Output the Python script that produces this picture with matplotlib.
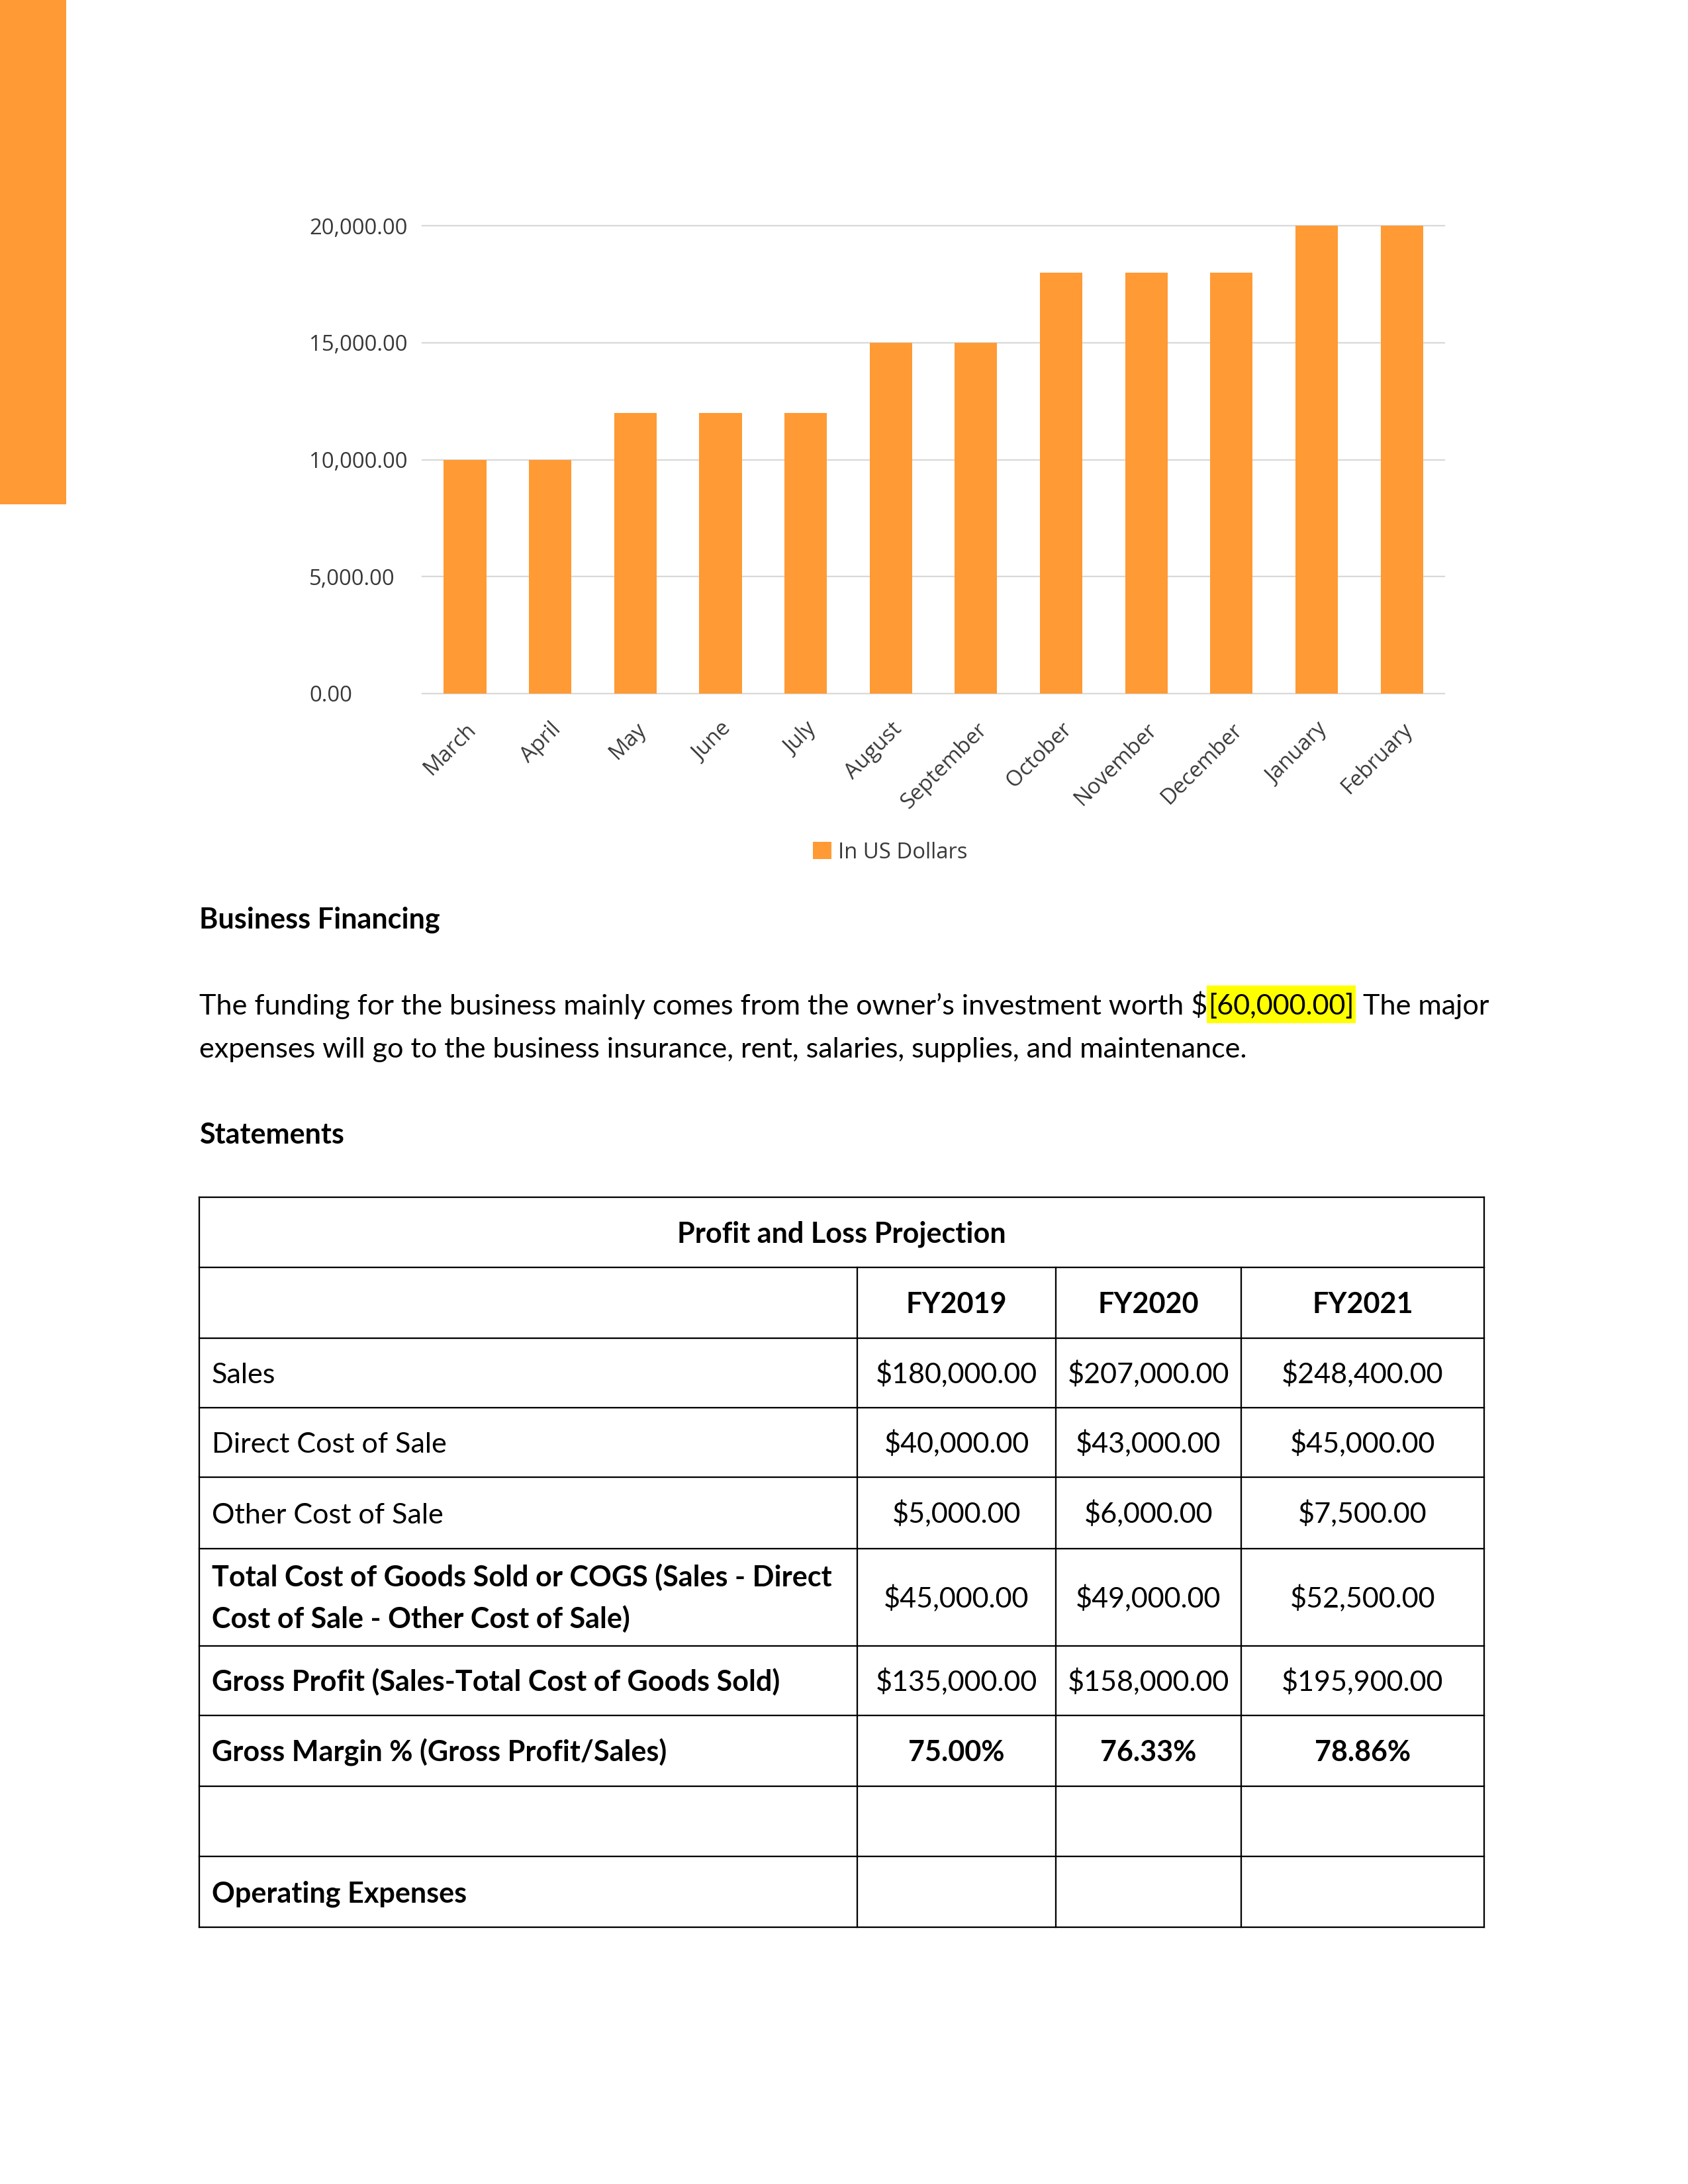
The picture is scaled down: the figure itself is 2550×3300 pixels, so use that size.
import matplotlib
matplotlib.use('Agg')
import matplotlib.pyplot as plt
from matplotlib.patches import Rectangle

# ---------------- data ----------------
months = ["March", "April", "May", "June", "July", "August", "September",
          "October", "November", "December", "January", "February"]
usd = [10000, 10000, 12000, 12000, 12000, 15000, 15000,
       18000, 18000, 18000, 20000, 20000]
yticks = [0, 5000, 10000, 15000, 20000]
series_label = "In US Dollars"

years = ["FY2019", "FY2020", "FY2021"]
row_labels = ["Sales", "Direct Cost of Sale", "Other Cost of Sale",
              "Total Cost of Goods Sold or COGS (Sales - Direct\nCost of Sale - Other Cost of Sale)",
              "Gross Profit (Sales-Total Cost of Goods Sold)",
              "Gross Margin % (Gross Profit/Sales)", "", "Operating Expenses"]
sales = [180000, 207000, 248400]
direct_cost = [40000, 43000, 45000]
other_cost = [5000, 6000, 7500]
cogs = [45000, 49000, 52500]
gross_profit = [135000, 158000, 195900]
gross_margin = [75.00, 76.33, 78.86]

# ---------------- figure ----------------
W, H, DPI = 2550, 3300, 300
ORANGE = '#FF9A35'
CHART_FONT = 'Open Sans'
BODY_FONT = 'Lato'
CHART_TXT = '#383838'
plt.rcParams['font.family'] = [CHART_FONT, 'DejaVu Sans']

fig = plt.figure(figsize=(W / DPI, H / DPI), dpi=DPI)
fig.patch.set_facecolor('white')

# overlay axes in pixel coordinates for page elements
tax = fig.add_axes([0, 0, 1, 1], zorder=0)
tax.set_xlim(0, W)
tax.set_ylim(H, 0)
tax.axis('off')

# orange stripe top-left
tax.add_patch(Rectangle((0, 0), 100, 762, color=ORANGE, lw=0))

# ---------------- bar chart ----------------
ax = fig.add_axes([638 / W, 1 - 1048 / H, (2182 - 638) / W, (1048 - 341) / H], zorder=2)
ax.patch.set_alpha(0)
xpos = list(range(len(months)))
ax.bar(xpos, usd, width=0.5, color=ORANGE, label=series_label, zorder=3)
ax.set_xlim(-0.5, len(months) - 0.5)
ax.set_ylim(0, 20000)
ax.set_yticks(yticks)
ax.set_yticklabels([f"{v:,.2f}" for v in yticks])
ax.yaxis.grid(True, color='#D9D9D9', linewidth=0.55)
for gl in ax.get_ygridlines():
    gl.set_clip_on(False)
ax.set_axisbelow(True)
for s in ax.spines.values():
    s.set_visible(False)
ax.tick_params(axis='y', length=0, pad=41, labelsize=7.9, labelcolor=CHART_TXT)
for lbl in ax.get_yticklabels():
    lbl.set_horizontalalignment('left')
ax.set_xticks(xpos)
ax.set_xticklabels(months, rotation=45, ha='right', va='top', rotation_mode='anchor')
ax.tick_params(axis='x', length=0, pad=9, labelsize=7.9, labelcolor=CHART_TXT)

ax.legend(loc='center', bbox_to_anchor=(1345 / W, 1 - 1288 / H),
          bbox_transform=fig.transFigure, frameon=False, fontsize=7.9,
          handlelength=0.85, handleheight=0.85, handletextpad=0.3,
          labelcolor=CHART_TXT, borderpad=0)

# ---------------- body text ----------------
renderer = fig.canvas.get_renderer()


def text_width(s, size, weight='normal'):
    t = tax.text(0, 0, s, fontsize=size, family=[BODY_FONT, 'DejaVu Sans'], weight=weight)
    w = t.get_window_extent(renderer).width
    t.remove()
    return w


part_a = "The funding for the business mainly comes from the owner\u2019s investment worth $"
part_h = "[60,000.00]"
part_b = "The major"
base = 11.0
space_w = text_width("a a", base) - text_width("aa", base)
nat = text_width(part_a, base) + text_width(part_h, base) + space_w + text_width(part_b, base)
FS = base * (2251 - 301) / nat
em = FS * DPI / 72.0
cap_off = 0.36 * em


def body(x, y, s, weight='normal', ha='left', color='black'):
    return tax.text(x, y, s, fontsize=FS, family=[BODY_FONT, 'DejaVu Sans'],
                    weight=weight, ha=ha, va='baseline', color=color, zorder=3)


body(301, 1402, "Business Financing", weight='bold')
x0 = 301
wa = text_width(part_a, FS)
wh = text_width(part_h, FS)
sw = text_width("a a", FS) - text_width("aa", FS)
tax.add_patch(Rectangle((x0 + wa - 1, 1489), wh + 4, 57, color='#FFFF00', lw=0, zorder=2))
body(x0, 1533, part_a)
body(x0 + wa + 1, 1533, part_h)
body(x0 + wa + wh + 3 + sw, 1533, part_b)
body(301, 1598, "expenses will go to the business insurance, rent, salaries, supplies, and maintenance.")
body(301, 1728, "Statements", weight='bold')

# ---------------- table ----------------
col_edges = [301, 1295, 1595, 1875, 2242]
row_edges = [1809, 1915, 2022, 2127, 2232, 2340, 2487, 2592, 2699, 2805, 2912]
LW = 0.55
for y in row_edges:
    tax.plot([col_edges[0], col_edges[-1]], [y, y], color='black', lw=LW, solid_capstyle='projecting', zorder=4)
tax.plot([col_edges[0]] * 2, [row_edges[0], row_edges[-1]], color='black', lw=LW, zorder=4)
tax.plot([col_edges[-1]] * 2, [row_edges[0], row_edges[-1]], color='black', lw=LW, zorder=4)
for xc in col_edges[1:-1]:
    tax.plot([xc, xc], [row_edges[1], row_edges[-1]], color='black', lw=LW, zorder=4)

col_centers = [(col_edges[i] + col_edges[i + 1]) / 2 for i in range(1, 4)]


def row_center(i):
    return (row_edges[i] + row_edges[i + 1]) / 2


body((col_edges[0] + col_edges[-1]) / 2, row_center(0) + cap_off, "Profit and Loss Projection",
     weight='bold', ha='center')
for xc, yr in zip(col_centers, years):
    body(xc, row_center(1) + cap_off, yr, weight='bold', ha='center')

money = lambda v: f"${v:,.2f}"
row_values = [
    [money(v) for v in sales],
    [money(v) for v in direct_cost],
    [money(v) for v in other_cost],
    [money(v) for v in cogs],
    [money(v) for v in gross_profit],
    [f"{v:.2f}%" for v in gross_margin],
    ["", "", ""],
    ["", "", ""],
]
label_bold = [False, False, False, True, True, True, False, True]
value_bold = [False, False, False, False, False, True, False, False]

for k, (lab, vals) in enumerate(zip(row_labels, row_values)):
    ri = k + 2
    yc = row_center(ri)
    w = 'bold' if label_bold[k] else 'normal'
    lines = lab.split("\n")
    if len(lines) == 1:
        body(320, yc + cap_off, lab, weight=w)
    else:
        gap = 63
        for j, ln in enumerate(lines):
            body(320, yc - gap / 2 + j * gap + cap_off, ln, weight=w)
    for xc, v in zip(col_centers, vals):
        body(xc, yc + cap_off, v, weight='bold' if value_bold[k] else 'normal', ha='center')

fig.savefig("out.png", dpi=DPI, facecolor='white')
